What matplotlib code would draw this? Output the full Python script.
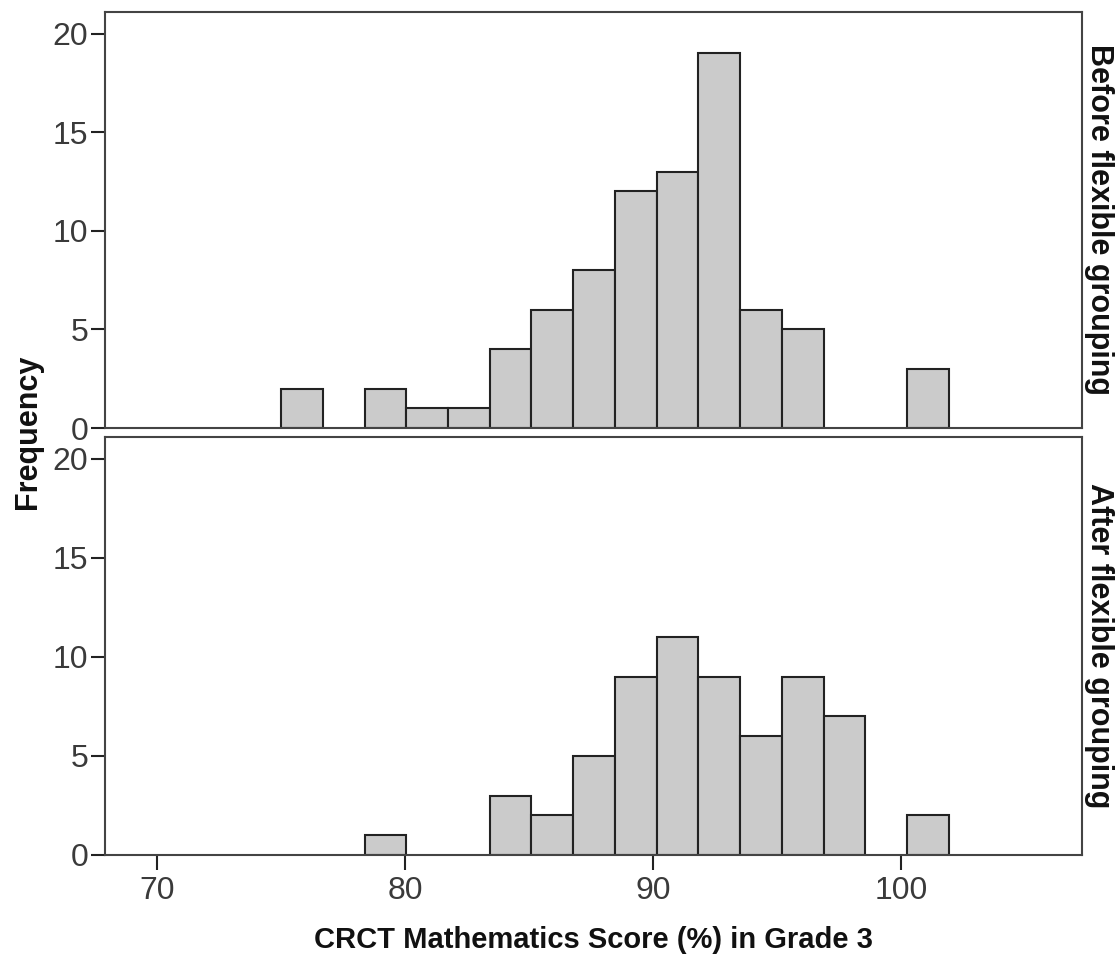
import matplotlib
matplotlib.use("Agg")
import matplotlib.pyplot as plt

plt.rcParams['font.family'] = ['Liberation Sans', 'DejaVu Sans']

# Histogram data (SPSS-style bins)
bin_start = 75.0
bin_width = 1.683
before_counts = [2, 0, 2, 1, 1, 4, 6, 8, 12, 13, 19, 6, 5, 0, 0, 3]
after_counts = [0, 0, 1, 0, 0, 3, 2, 5, 9, 11, 9, 6, 9, 7, 0, 2]
panel_labels = ["Before flexible grouping", "After flexible grouping"]
x_ticks = [70, 80, 90, 100]
y_ticks = [0, 5, 10, 15, 20]
x_label = "CRCT Mathematics Score (%) in Grade 3"
y_label = "Frequency"

fig = plt.figure(figsize=(11.19, 9.56), dpi=100)
W, H = 1119, 956
left, right = 105 / W, 1082 / W
ax_top = fig.add_axes([left, 1 - 428 / H, right - left, (428 - 12) / H])
ax_bot = fig.add_axes([left, 1 - 855 / H, right - left, (855 - 437) / H])

frame_color = '#444444'
for ax, counts, lab in [(ax_top, before_counts, panel_labels[0]),
                        (ax_bot, after_counts, panel_labels[1])]:
    lefts = [bin_start + i * bin_width for i in range(len(counts))]
    xs = [l for l, c in zip(lefts, counts) if c > 0]
    hs = [c for c in counts if c > 0]
    ax.bar(xs, hs, width=bin_width, align='edge', color='#cbcbcb',
           edgecolor='#222222', linewidth=1.5, zorder=2)
    ax.set_xlim(67.9, 107.3)
    ax.set_ylim(0, 21.1)
    ax.set_yticks(y_ticks)
    for s in ax.spines.values():
        s.set_color(frame_color)
        s.set_linewidth(1.5)
    ax.tick_params(axis='y', direction='out', length=10, width=1.5,
                   color='#222222', labelsize=23, labelcolor='#3a3a3a', pad=2)
    ax.text(1.002, 0.5, lab, transform=ax.transAxes, rotation=270,
            ha='left', va='center', fontsize=22, fontweight='bold',
            color='#111111')

ax_top.set_xticks([])
ax_bot.set_xticks(x_ticks)
ax_bot.tick_params(axis='x', direction='out', length=11, width=1.5,
                   color='#222222', labelsize=23, labelcolor='#3a3a3a', pad=4)

fig.text(0.5 * (left + right), 1 - 940 / H, x_label, ha='center', va='center',
         fontsize=21, fontweight='bold', color='#111111')
fig.text(28 / W, 1 - 432 / H, y_label, ha='center', va='center', rotation=90,
         fontsize=22, fontweight='bold', color='#111111')

fig.savefig("out.png", dpi=100)
